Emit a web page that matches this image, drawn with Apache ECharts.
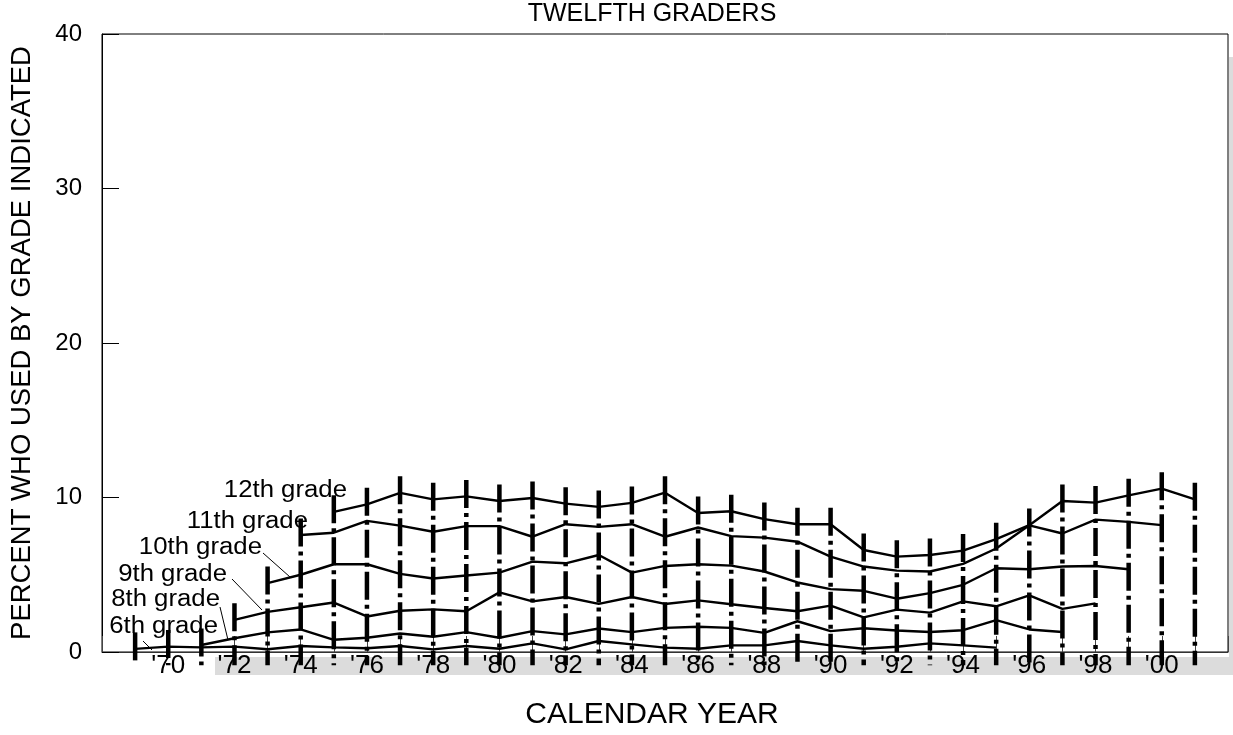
<!DOCTYPE html>
<html><head><meta charset="utf-8">
<script src="https://cdn.jsdelivr.net/npm/echarts@6/dist/echarts.min.js"></script>
<style>html,body{margin:0;padding:0;background:#fff}#c{width:1233px;height:735px}</style>
</head><body><div id="c"></div>
<script>
// ---- data (percent who used by grade indicated), one array per grade ----
const gradeNames = ['6th grade','8th grade','9th grade','10th grade','11th grade','12th grade'];
const startYears = [1969, 1971, 1972, 1973, 1974, 1975];
const grade6  = [0.20,0.35,0.30,0.35,0.18,0.39,0.30,0.24,0.39,0.17,0.39,0.21,0.56,0.17,0.71,0.49,0.28,0.21,0.43,0.43,0.71,0.43,0.21,0.34,0.56,0.43,0.28];
const grade8  = [0.45,0.89,1.27,1.46,0.79,0.92,1.20,0.99,1.29,0.92,1.35,1.14,1.52,1.29,1.56,1.63,1.56,1.24,1.99,1.35,1.54,1.39,1.29,1.41,2.06,1.46,1.29];
const grade9  = [2.08,2.60,2.90,3.20,2.30,2.67,2.76,2.64,3.86,3.28,3.56,3.11,3.56,3.11,3.34,3.09,2.85,2.64,3.00,2.24,2.74,2.55,3.28,2.96,3.66,2.79,3.15];
const grade10 = [4.46,5.00,5.68,5.68,5.06,4.76,4.95,5.14,5.85,5.74,6.28,5.14,5.57,5.68,5.59,5.21,4.50,4.07,3.96,3.45,3.81,4.35,5.42,5.36,5.53,5.57,5.36];
const grade11 = [7.57,7.72,8.49,8.18,7.78,8.15,8.15,7.46,8.27,8.10,8.27,7.46,8.06,7.50,7.40,7.14,6.17,5.53,5.27,5.21,5.70,6.70,8.20,7.67,8.57,8.42,8.21];
const grade12 = [9.07,9.56,10.30,9.88,10.07,9.77,9.97,9.60,9.39,9.65,10.31,9.00,9.11,8.60,8.27,8.27,6.60,6.17,6.28,6.56,7.30,8.21,9.77,9.67,10.14,10.57,9.88];
const xTickYears  = [1970,1972,1974,1976,1978,1980,1982,1984,1986,1988,1990,1992,1994,1996,1998,2000];
const xTickLabels = ["'70","'72","'74","'76","'78","'80","'82","'84","'86","'88","'90","'92","'94","'96","'98","'00"];
const yTicks = [0,10,20,30,40];

const allGrades = [grade6, grade8, grade9, grade10, grade11, grade12];
const FONT = "'Liberation Sans', Arial, sans-serif";

// cohort bar extents: from below the axis up past the highest value in that year
const barPad = 1.07, barBottom = -0.85;
const yearMax = {};
allGrades.forEach((arr, gi) => arr.forEach((v, i) => {
  const yr = startYears[gi] + i;
  yearMax[yr] = Math.max(yearMax[yr] ?? -Infinity, v);
}));
const barData = Object.keys(yearMax).map(k => [Number(k), yearMax[k] + barPad]);

const lineSeries = allGrades.map((arr, gi) => ({
  name: gradeNames[gi], type: 'line', z: 4,
  data: arr.map((v, i) => [startYears[gi] + i, v]),
  showSymbol: false, symbol: 'none', animation: false, silent: true,
  lineStyle: { color: '#000', width: 2.4 }
}));

// grade label annotations (anchor = right/middle of text)
const labelAnchors = [[218, 627], [220, 600], [227, 575], [262, 548], [308, 522], [347, 491]];
const gradeLabelGraphics = gradeNames.map((t, i) => ({
  type: 'text', z: 10, x: labelAnchors[i][0], y: labelAnchors[i][1], scaleX: 1.12,
  style: { text: t, x: 0, y: 0, align: 'right', verticalAlign: 'middle', font: "23px 'Liberation Sans'", fill: '#000' }
}));

const chart = echarts.init(document.getElementById('c'), null, { renderer: 'canvas' });
chart.setOption({
  backgroundColor: '#fff',
  animation: false,
  title: { text: 'TWELFTH GRADERS', left: 652, textAlign: 'center', top: 2, padding: 0,
    textStyle: { fontFamily: FONT, fontSize: 25, fontWeight: 'normal', color: '#000' } },
  grid: { left: 101, right: 5, top: 34, bottom: 79, show: true, borderColor: '#000', borderWidth: 1 },
  xAxis: {
    type: 'value', min: 1968, max: 2002, interval: 1,
    name: 'CALENDAR YEAR', nameLocation: 'middle', nameGap: 48,
    nameTextStyle: { fontFamily: FONT, fontSize: 30, color: '#000', padding: [0, 26, 0, 0] },
    axisLine: { lineStyle: { color: '#333', width: 1 } },
    axisTick: { inside: true, length: 16, lineStyle: { color: '#444', width: 1 } },
    splitLine: { show: false },
    axisLabel: { fontFamily: FONT, fontSize: 26, color: '#000', margin: 1,
      formatter: v => { const k = xTickYears.indexOf(v); return k >= 0 ? xTickLabels[k] : ''; } }
  },
  yAxis: {
    type: 'value', min: yTicks[0], max: yTicks[yTicks.length - 1], interval: 10,
    name: 'PERCENT WHO USED BY GRADE INDICATED', nameLocation: 'middle', nameGap: 66, nameRotate: 90,
    nameTextStyle: { fontFamily: FONT, fontSize: 27.5, color: '#000' },
    axisLine: { show: true, lineStyle: { color: '#000', width: 1 } },
    axisTick: { show: true, inside: true, length: 17, lineStyle: { color: '#000', width: 1 } },
    splitLine: { show: false },
    axisLabel: { fontFamily: FONT, fontSize: 24, color: '#000', margin: 20 }
  },
  graphic: [
    { type: 'rect', z: -10, shape: { x: 215, y: 657, width: 1018, height: 18 }, style: { fill: '#dcdcdc' } },
    { type: 'rect', z: -10, shape: { x: 1229, y: 57, width: 4, height: 618 }, style: { fill: '#dcdcdc' } },
    ...gradeLabelGraphics,
    { type: 'line', z: 10, shape: { x1: 263, y1: 553, x2: 290, y2: 577 }, style: { stroke: '#000', lineWidth: 1 } },
    { type: 'line', z: 10, shape: { x1: 232, y1: 579, x2: 262, y2: 610 }, style: { stroke: '#000', lineWidth: 1 } },
    { type: 'line', z: 10, shape: { x1: 220, y1: 607, x2: 228, y2: 640 }, style: { stroke: '#000', lineWidth: 1 } },
    { type: 'line', z: 10, shape: { x1: 143, y1: 641, x2: 152, y2: 650 }, style: { stroke: '#000', lineWidth: 1 } }
  ],
  series: [
    {
      type: 'custom', clip: false, z: 3, silent: true, animation: false,
      data: barData,
      renderItem: (params, api) => {
        const x = api.value(0), top = api.value(1);
        const p1 = api.coord([x, top]);
        const p0 = api.coord([x, barBottom]);
        return { type: 'line', shape: { x1: p1[0], y1: p1[1], x2: p0[0], y2: p0[1] },
          style: { stroke: '#000', lineWidth: 4.5, lineDash: [28, 5, 4, 5] } };
      }
    },
    ...lineSeries
  ]
});
</script>
</body></html>
